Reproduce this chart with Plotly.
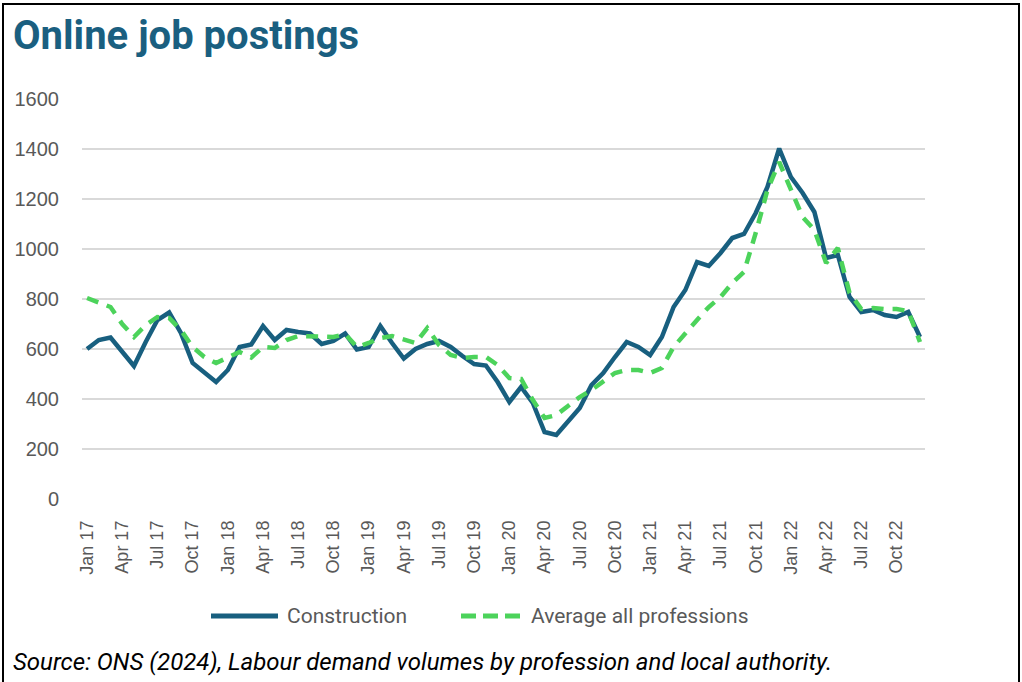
import plotly.graph_objects as go

# Monthly online job postings, Jan 2017 - Dec 2022
months = [f"{m} {y}" for y in range(17, 23)
          for m in ["Jan", "Feb", "Mar", "Apr", "May", "Jun",
                    "Jul", "Aug", "Sep", "Oct", "Nov", "Dec"]]

construction = [
    600, 636, 646, 590, 532, 628, 716, 746, 664, 544, 504, 468,
    516, 608, 618, 692, 636, 676, 668, 662, 620, 632, 662, 598,
    608, 692, 624, 562, 600, 620, 632, 608, 572, 540, 534, 468,
    388, 448, 384, 268, 256, 308, 364, 456, 504, 568, 628, 608,
    576, 648, 768, 836, 948, 932, 984, 1044, 1060, 1144, 1248, 1402,
    1288, 1224, 1148, 964, 976, 808, 748, 756, 736, 728, 748, 648,
]

average_all = [
    804, 788, 768, 700, 648, 696, 728, 724, 676, 608, 568, 544,
    564, 588, 566, 608, 604, 636, 652, 652, 648, 648, 660, 608,
    624, 644, 652, 636, 624, 684, 616, 576, 564, 568, 568, 536,
    484, 480, 396, 324, 336, 372, 408, 436, 468, 504, 516, 516,
    504, 524, 608, 664, 716, 768, 808, 864, 908, 1064, 1236, 1348,
    1236, 1128, 1076, 944, 1004, 824, 760, 764, 760, 760, 752, 628,
]

series_names = ["Construction", "Average all professions"]
series_colors = ["#185f7f", "#4cd35b"]
series_dash = ["solid", "12px,9px"]

tick_idx = list(range(0, len(months), 3))
tick_text = [months[i] for i in tick_idx]
x = list(range(len(months)))

W, H = 1022, 682
L, R, T, B = 82, 97, 99, 183
pw, ph = W - L - R, H - T - B


def px(xp):
    return (xp - L) / pw


def py(yp):
    return (H - B - yp) / ph


fig = go.Figure()
for name, vals, col, dash in zip(series_names, [construction, average_all],
                                 series_colors, series_dash):
    fig.add_trace(go.Scatter(
        x=x, y=vals, mode="lines", name=name, showlegend=False,
        line=dict(color=col, width=4.5, dash=dash),
    ))

# Legend keys drawn below the plot
legend_font = dict(family="Roboto, sans-serif", size=21, color="#595959")
key_spans = [(211, 278), (461, 526)]
text_x = [285, 529]
shapes = []
annotations = []
for (k0, k1), tx, name, col, dash in zip(key_spans, text_x, series_names,
                                         series_colors, series_dash):
    shapes.append(dict(
        type="line", xref="paper", yref="paper",
        x0=px(k0), x1=px(k1), y0=py(616), y1=py(616),
        line=dict(color=col, width=5, dash="15px,7px" if dash != "solid" else "solid"),
    ))
    annotations.append(dict(
        text=name, xref="paper", yref="paper", x=px(tx), y=py(616),
        xanchor="left", yanchor="middle", showarrow=False, font=legend_font,
    ))

shapes.append(dict(
    type="rect", xref="paper", yref="paper",
    x0=px(3), x1=px(1019), y0=py(700), y1=py(4),
    line=dict(color="black", width=2), fillcolor="rgba(0,0,0,0)", layer="below",
))

annotations += [
    dict(
        text="<b>Online job postings</b>", xref="paper", yref="paper",
        x=px(11), y=py(35), xanchor="left", yanchor="middle", showarrow=False,
        font=dict(family="Roboto, sans-serif", size=40, color="#1a5f80"),
    ),
    dict(
        text="<i>Source: ONS (2024), Labour demand volumes by profession and local authority.</i>",
        xref="paper", yref="paper",
        x=px(11), y=py(662), xanchor="left", yanchor="middle", showarrow=False,
        font=dict(family="Roboto, sans-serif", size=24, color="black"),
    ),
]

fig.update_layout(
    width=W, height=H,
    margin=dict(l=L, r=R, t=T, b=B),
    paper_bgcolor="white", plot_bgcolor="white",
    showlegend=False,
    xaxis=dict(
        range=[-0.43, 71.43],
        tickmode="array", tickvals=tick_idx, ticktext=tick_text,
        tickangle=-90, showgrid=False, zeroline=False, showline=False,
        ticks="", ticklabelstandoff=17,
        tickfont=dict(family="Liberation Sans, Arial, sans-serif", size=18, color="#595959"),
    ),
    yaxis=dict(
        range=[0, 1600], tickvals=list(range(0, 1601, 200)),
        showgrid=True, gridcolor="#d9d9d9", gridwidth=1.5,
        zeroline=False, showline=False, ticks="", ticklabelstandoff=22,
        tickfont=dict(family="Liberation Sans, Arial, sans-serif", size=20, color="#595959"),
    ),
    shapes=shapes,
    annotations=annotations,
)

fig.write_html("out.html")
